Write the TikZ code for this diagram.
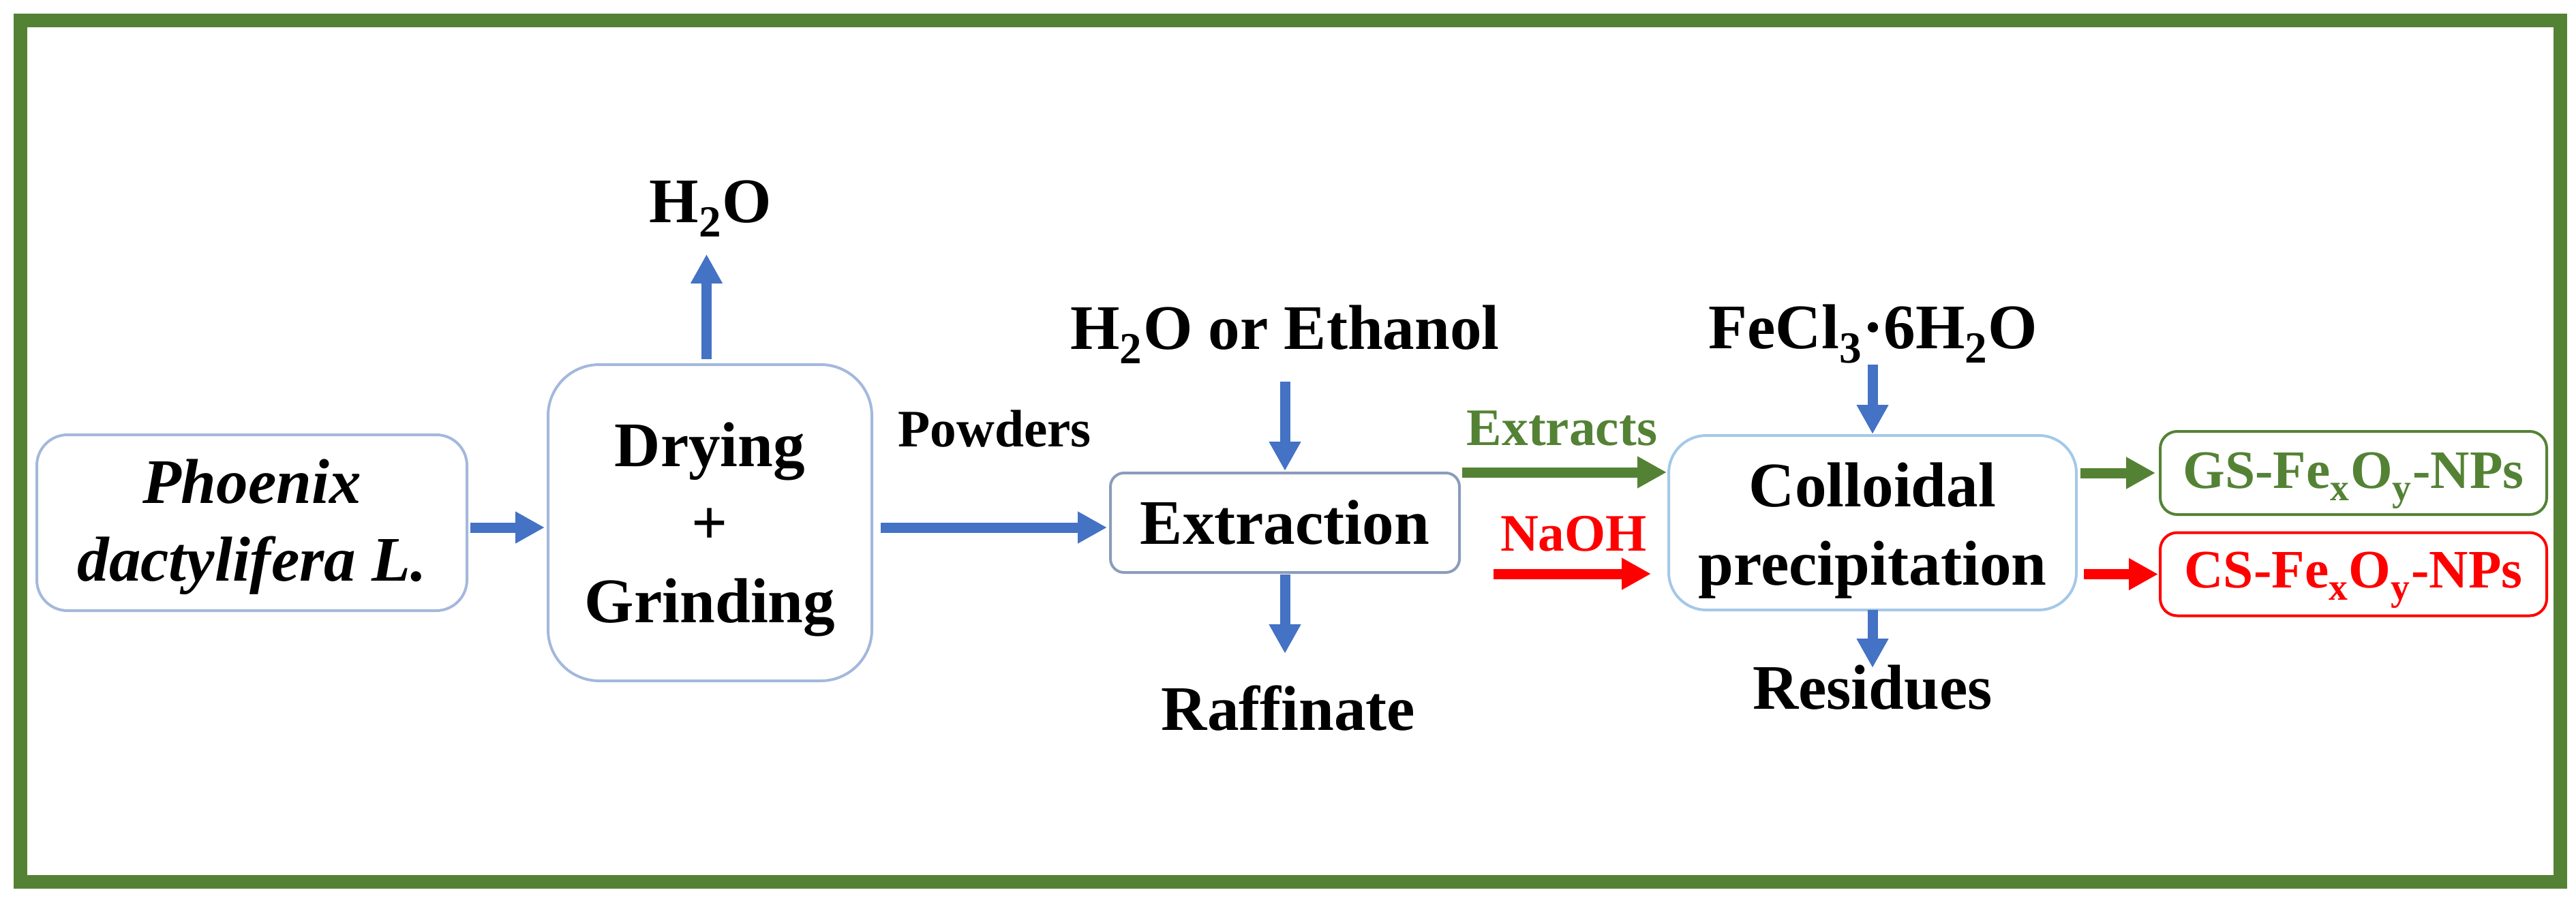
\documentclass[tikz,border=0pt]{standalone}
\usepackage{fontspec}
\setmainfont{Liberation Serif}
\usetikzlibrary{positioning, arrows.meta}

\definecolor{flowblue}{HTML}{4472C4}
\definecolor{framegreen}{HTML}{548235}
\definecolor{boxblue}{HTML}{A3B8DC}
\definecolor{boxsky}{HTML}{A5C8E8}
\newcommand{\subdrop}[1]{\textsubscript{\raisebox{-.12em}{#1}}}
\newcommand{\linelift}[1]{\rule{0pt}{#1}}

\begin{document}
\begin{tikzpicture}[
                node distance=1cm and 1cm,
                flow/.style={-{Triangle[length=.43cm,width=.44cm]}, line width=.15cm, flowblue},
                greenflow/.style={flow, framegreen},
                redflow/.style={flow, red},
                stagebox/.style={draw=boxblue, line width=.04cm, outer sep=0pt, align=center, inner sep=0pt, font=\fontsize{26.5}{32.5}\selectfont\bfseries},
                productbox/.style={draw, line width=.04cm, outer sep=0pt, rounded corners=.25cm, minimum width=5.67cm, minimum height=1.22cm, inner sep=0pt, font=\fontsize{22.6}{26}\selectfont\bfseries},
                textstyle/.style={inner sep=0pt, font=\fontsize{26.5}{32.5}\selectfont\bfseries},
                labelstyle/.style={inner sep=0pt, text=black, font=\fontsize{22}{26}\selectfont\bfseries}
            ]
                \useasboundingbox (0,0) rectangle (37.79,13.24);

                % Outer frame
                \draw[framegreen, line width=.2cm] (.3,.3) rectangle (37.56,12.94);

                % Process boxes
                \node[stagebox, rounded corners=.45cm, minimum width=6.31cm, minimum height=2.58cm] (phoenix) at (3.695,5.57) {\linelift{22pt}\itshape Phoenix\\\itshape dactylifera L.};
                \node[stagebox, rounded corners=.75cm, minimum width=4.75cm, minimum height=4.64cm, right=1.19cm of phoenix] (drying) {\linelift{24pt}Drying\\+\\Grinding};
                \node[stagebox, draw=boxblue!85!black, rounded corners=.2cm, minimum width=5.12cm, minimum height=1.46cm, right=3.5cm of drying] (extraction) {Extraction};
                \node[stagebox, draw=boxsky, rounded corners=.55cm, minimum width=5.98cm, minimum height=2.56cm, right=3.07cm of extraction] (colloidal) {\linelift{25pt}Colloidal\\precipitation};

                % Products
                \node[productbox, draw=framegreen, text=framegreen, right=1.23cm of colloidal, yshift=.73cm] (gsnps) {\linelift{21.5pt}GS-Fe\subdrop{x}O\subdrop{y}-NPs};
                \node[productbox, draw=red, text=red, right=1.23cm of colloidal, yshift=-.755cm] (csnps) {\linelift{20pt}CS-Fe\subdrop{x}O\subdrop{y}-NPs};

                % Inputs and outputs
                \node[textstyle, above=1.87cm of drying, xshift=.01cm] (water) {H\subdrop{2}O};
                \node[textstyle, above=1.6cm of extraction] (solvent) {H\subdrop{2}O or Ethanol};
                \node[textstyle, below=1.65cm of extraction, xshift=.05cm] (raffinate) {Raffinate};
                \node[textstyle, above=1.05cm of colloidal, xshift=.01cm] (fecl) {FeCl\subdrop{3}·6H\subdrop{2}O};
                \node[textstyle, below=.8cm of colloidal] (residues) {Residues};
                \coordinate (naohstart) at ([xshift=-2.57cm,yshift=-.75cm]colloidal.west);
                \coordinate (waterfoot) at ([xshift=-.06cm]water.south);

                % Blue arrows
                \draw[flow, shorten <=.05cm, shorten >=.05cm] ([yshift=-.07cm]phoenix.east) -- ([yshift=-.07cm]drying.west);
                \draw[flow, shorten <=.13cm, shorten >=.05cm] ([yshift=-.07cm]drying.east) -- node[labelstyle, above=1.1cm, xshift=.05cm] (powders) {Powders} ([yshift=-.07cm]extraction.west);
                \draw[flow, shorten <=.08cm, shorten >=.25cm] (waterfoot |- drying.north) -- (waterfoot);
                \draw[flow, shorten <=.26cm, shorten >=.03cm] (solvent.south) -- (extraction.north);
                \draw[flow, shorten <=.03cm, shorten >=.46cm] (extraction.south) -- (raffinate.north -| extraction.south);
                \draw[flow, shorten <=.01cm, shorten >=.02cm] (fecl.south -| colloidal.north) -- (colloidal.north);
                \draw[flow, shorten >=-.05cm] (colloidal.south) -- (residues.north);

                % Coloured arrows
                \draw[greenflow, shorten <=.04cm, shorten >=.03cm] ([yshift=.74cm]extraction.east) -- node[labelstyle, text=framegreen, above=.31cm, xshift=-.03cm] (extracts) {Extracts} ([yshift=.74cm]colloidal.west);
                \draw[redflow, shorten >=.26cm] (naohstart) -- node[labelstyle, text=red, above=.25cm, xshift=-.11cm] (naoh) {NaOH} (naohstart -| colloidal.west);
                \draw[greenflow, shorten <=.06cm, shorten >=.07cm] ([yshift=.73cm]colloidal.east) -- (gsnps.west);
                \draw[redflow, shorten <=.11cm, shorten >=.03cm] ([yshift=-.755cm]colloidal.east) -- (csnps.west);
            \end{tikzpicture}
\end{document}
